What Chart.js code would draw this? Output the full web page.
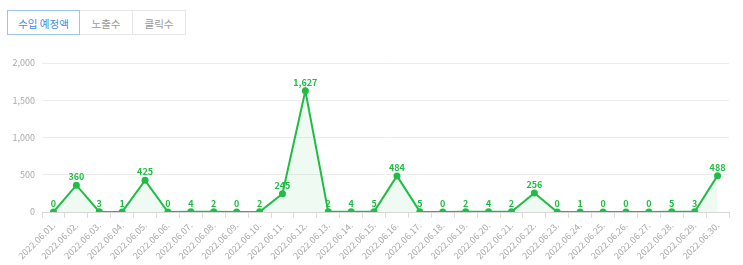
<!DOCTYPE html>
<html><head><meta charset="utf-8">
<script src="https://cdn.jsdelivr.net/npm/chart.js@4/dist/chart.umd.min.js"></script>
<style>
html,body{margin:0;padding:0;background:#fff;width:743px;height:265px;overflow:hidden;font-family:"Noto Sans CJK KR","Noto Sans",sans-serif;}
#tabs{position:absolute;left:7px;top:10px;display:flex;z-index:2;}
.tab{height:25px;line-height:25px;font-size:10.5px;color:#9a9a9a;border:1px solid #e6e6e6;text-align:center;box-sizing:border-box;background:#fff;}
.tab.on{color:#3d8ee8;border:1px solid #9cc3f3;}
#wrap{position:absolute;left:0;top:0;width:743px;height:265px;}
</style></head><body>
<div id="tabs">
<div class="tab on" style="width:73px">수입 예정액</div>
<div class="tab" style="width:53px;border-left:none">노출수</div>
<div class="tab" style="width:53px;border-left:none">클릭수</div>
</div>
<div id="wrap"><canvas id="c"></canvas></div>
<script>
const categories = ["2022.06.01.","2022.06.02.","2022.06.03.","2022.06.04.","2022.06.05.","2022.06.06.","2022.06.07.","2022.06.08.","2022.06.09.","2022.06.10.","2022.06.11.","2022.06.12.","2022.06.13.","2022.06.14.","2022.06.15.","2022.06.16.","2022.06.17.","2022.06.18.","2022.06.19.","2022.06.20.","2022.06.21.","2022.06.22.","2022.06.23.","2022.06.24.","2022.06.25.","2022.06.26.","2022.06.27.","2022.06.28.","2022.06.29.","2022.06.30."];
const revenue = [0,360,3,1,425,0,4,2,0,2,245,1627,2,4,5,484,5,0,2,4,2,256,0,1,0,0,0,5,3,488];
const yTicks = [0,500,1000,1500,2000];

const green = '#1fbd45';
const labelPlugin = {
  id:'vals',
  afterDatasetsDraw(chart){
    const ctx = chart.ctx;
    const meta = chart.getDatasetMeta(0);
    ctx.save();
    ctx.font = 'bold 9px "Noto Sans CJK KR","Noto Sans",sans-serif';
    ctx.fillStyle = green;
    ctx.textAlign = 'center';
    ctx.textBaseline = 'bottom';
    meta.data.forEach((p,i)=>{
      ctx.fillText(revenue[i].toLocaleString('en-US'), p.x, p.y - 4);
    });
    ctx.restore();
  }
};

new Chart(document.getElementById('c'),{
  type:'line',
  data:{labels:categories,datasets:[{
    data:revenue,
    borderColor:green,
    borderWidth:2,
    backgroundColor:'rgba(31,189,69,0.07)',
    fill:true,
    tension:0,
    pointRadius:3.5,
    pointBackgroundColor:green,
    pointBorderColor:green,
    pointBorderWidth:0
  }]},
  options:{
    responsive:true,maintainAspectRatio:false,animation:false,
    layout:{padding:{top:63,right:14,left:0,bottom:0}},
    plugins:{legend:{display:false},tooltip:{enabled:false}},
    scales:{
      x:{
        offset:true,
        grid:{offset:true,drawOnChartArea:false,drawTicks:true,tickLength:6,color:'#dcdcdc'},
        border:{color:'#d6d6d6'},
        ticks:{minRotation:45,maxRotation:45,autoSkip:false,color:'#a8a8a8',font:{size:9,family:'"Noto Sans CJK KR","Noto Sans",sans-serif'},padding:2},
        afterFit(s){s.height=53;}
      },
      y:{
        min:0,max:2000,
        afterBuildTicks(s){s.ticks=yTicks.map(v=>({value:v}));},
        grid:{color:'#ececec',drawTicks:false},
        border:{display:false},
        ticks:{color:'#a8a8a8',padding:7,font:{size:9,family:'"Noto Sans CJK KR","Noto Sans",sans-serif'},callback:v=>v.toLocaleString('en-US')},
        afterFit(s){s.width=42;}
      }
    }
  },
  plugins:[labelPlugin]
});
</script>
</body></html>
